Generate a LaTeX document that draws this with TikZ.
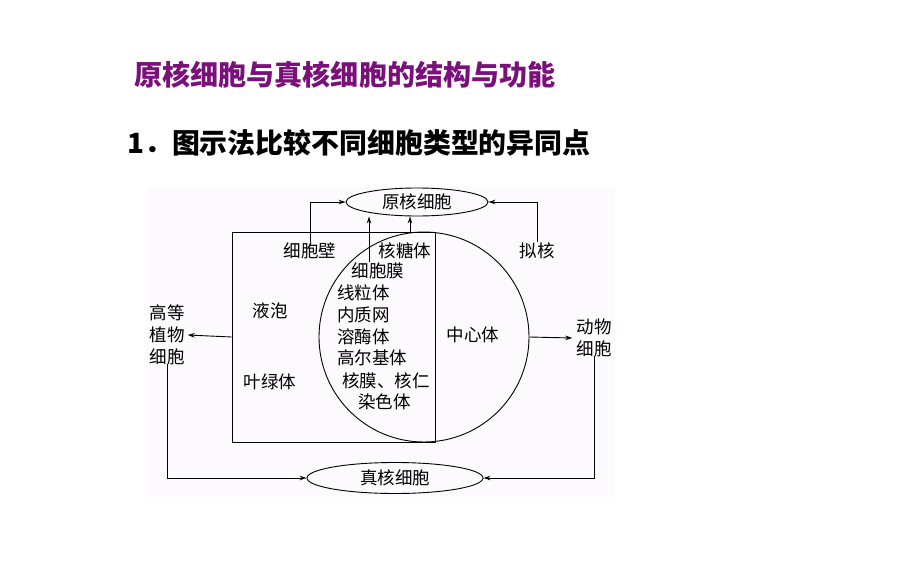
\documentclass[tikz,border=0pt]{standalone}
\usepackage{fontspec}
\setmainfont{Noto Sans CJK SC}
\newfontfamily\cjk{Noto Sans CJK SC}
\usetikzlibrary{shapes.geometric,arrows.meta}
\definecolor{titlepurple}{RGB}{122,16,122}
\definecolor{bgdots}{RGB}{252,250,252}
\tikzset{
  lbl/.style={inner sep=1pt, font=\cjk\fontsize{17.5}{22}\selectfont, text=black},
  oval/.style={draw, ellipse, inner sep=0pt, line width=0.9pt, font=\cjk\fontsize{17.5}{20}\selectfont},
  arr/.style={line width=0.9pt, -{Stealth[length=7pt,width=4.5pt]}},
  edge/.style={line width=0.9pt}
}
\begin{document}
\begin{tikzpicture}[x=1pt,y=-1pt]
\useasboundingbox (0,0) rectangle (920,575);
\fill[white] (0,0) rectangle (920,575);
\fill[bgdots] (147,187) rectangle (615,497);
% titles
\node[anchor=west, inner sep=0pt, text=titlepurple, font=\cjk\bfseries\fontsize{28.1}{30}\selectfont] (title) at (134,75) {原核细胞与真核细胞的结构与功能};
\node[anchor=west, inner sep=0pt, font=\cjk\bfseries\fontsize{27.9}{30}\selectfont] (sub) at (127,143) {1．图示法比较不同细胞类型的异同点};
% shapes
\node[draw, edge, minimum width=203pt, minimum height=210pt, inner sep=0pt] (box) at (333.5,337) {};
\node[draw, edge, circle, minimum size=210pt, inner sep=0pt] (cell) at (424,337) {};
\node[oval, minimum width=142pt, minimum height=28pt] (pro) at (417,202) {原核细胞};
\node[oval, minimum width=176pt, minimum height=31pt] (euk) at (395,478) {真核细胞};
% labels
\node[lbl] (wall) at (310,251) {细胞壁};
\node[lbl] (ribo) at (405,251) {核糖体};
\node[lbl] (nuc) at (537,251) {拟核};
\node[lbl] (mem) at (378,271) {细胞膜};
\node[lbl, anchor=west] (mito) at (336,293) {线粒体};
\node[lbl, anchor=west] (er) at (336,315) {内质网};
\node[lbl, anchor=west] (lyso) at (336,337) {溶酶体};
\node[lbl, anchor=west] (golgi) at (336,358) {高尔基体};
\node[lbl, anchor=west] (nm) at (341,381) {核膜、核仁};
\node[lbl, anchor=west] (chrom) at (357,402) {染色体};
\node[lbl] (vac) at (270,311) {液泡};
\node[lbl] (chl) at (270,382) {叶绿体};
\node[lbl] (cent) at (473,335) {中心体};
\node[lbl, align=center] (plant) at (167,335) {高等\\植物\\细胞};
\node[lbl, align=center] (animal) at (594,338) {动物\\细胞};
% connectors
\coordinate (m0) at (369,262);
\coordinate (r0) at (410,232);
\draw[arr] (wall.north) |- (pro.west);
\draw[arr] (m0) -- (m0 |- pro.south);
\draw[arr] (r0) -- (r0 |- pro.south);
\draw[arr] (nuc.north) |- (pro.east);
\draw[arr] (box.west) -- ([xshift=2pt]plant.east);
\draw[arr] (cell.east) -- ([xshift=-3pt]animal.west);
\draw[arr] ([yshift=2pt]plant.south) |- (euk.west);
\draw[arr] ([yshift=2pt]animal.south) |- (euk.east);
\end{tikzpicture}
\end{document}
